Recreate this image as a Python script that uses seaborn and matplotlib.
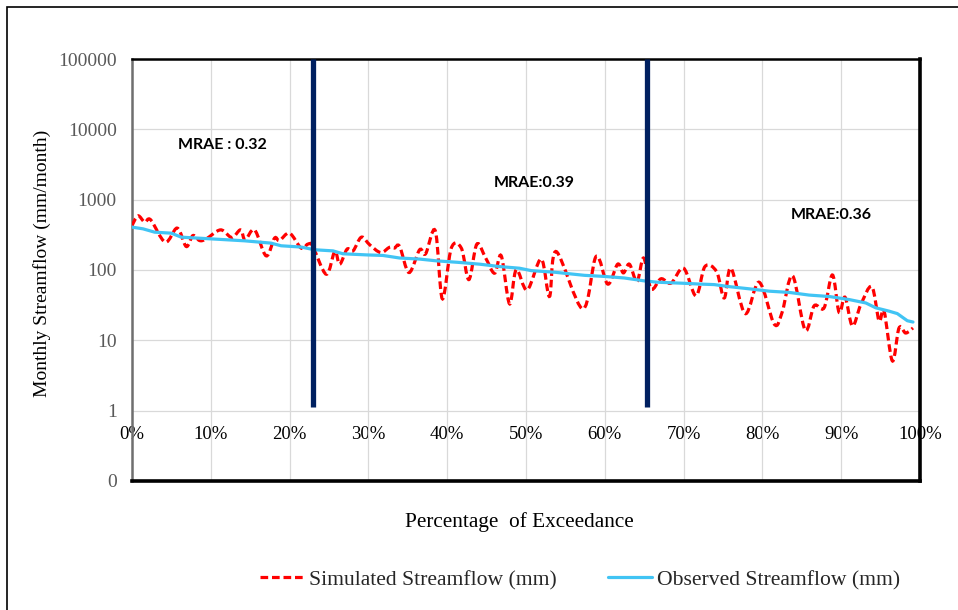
import matplotlib
matplotlib.use("Agg")
import matplotlib.pyplot as plt
import matplotlib.patches as mpatches
from matplotlib.path import Path
from matplotlib.lines import Line2D
import numpy as np
import seaborn as sns
import pandas as pd

# Simulated monthly streamflow along the exceedance axis (%, mm/month)
sim_pct = [0.0, 0.76, 1.61, 2.37, 4.22, 5.74, 6.88, 7.73, 8.58, 9.42,
           11.24, 12.67, 13.78, 14.36, 15.55, 17.02, 18.09, 18.72, 19.99, 21.46,
           22.31, 22.94, 24.65, 25.73, 26.36, 27.29, 28.05, 29.11, 30.17, 31.56,
           32.70, 33.30, 33.97, 35.15, 36.50, 37.26, 38.49, 39.38, 40.52, 41.79,
           42.75, 43.76, 44.87, 46.01, 46.86, 47.91, 48.76, 50.15, 51.93, 52.98,
           53.83, 57.20, 58.90, 60.37, 61.63, 62.36, 63.12, 64.09, 64.93, 65.87,
           67.13, 68.40, 70.00, 71.57, 72.71, 74.18, 75.16, 76.01, 77.82, 79.59,
           81.50, 82.50, 83.82, 85.42, 86.57, 87.83, 88.89, 89.73, 90.49, 91.42,
           92.48, 93.88, 94.80, 95.44, 96.49, 97.34, 98.19, 99.11]
sim_flow = [429, 589, 479, 517, 249, 394, 216, 309, 262, 277,
            372, 290, 372, 268, 372, 159, 284, 262, 334, 205,
            233, 216, 87, 183, 121, 198, 187, 293, 228, 177,
            211, 205, 216, 92, 194, 170, 361, 39, 205, 205,
            73, 233, 149, 90, 159, 33, 101, 52, 143, 42,
            183, 28, 156, 63, 121, 91, 121, 69, 148, 54,
            75, 65, 106, 43, 112, 95, 40, 106, 24, 67,
            17, 25, 83, 14, 31, 29, 85, 25, 41, 16,
            32, 58, 19, 26, 5.1, 15, 12.7, 15]

# Observed flow duration curve (%, mm/month)
obs_pct = [0.0, 1.39, 2.88, 4.98, 6.25, 10.05, 14.28, 17.65, 18.92, 21.46,
           23.16, 25.51, 26.78, 29.75, 31.85, 33.97, 36.50, 38.62, 41.57, 44.11,
           46.64, 49.18, 50.66, 53.61, 57.41, 59.95, 62.48, 65.02, 66.71, 69.67,
           72.21, 73.89, 75.79, 78.33, 80.86, 83.40, 85.93, 88.47, 91.00, 93.12,
           94.38, 96.07, 97.12, 98.39, 99.11]
obs_flow = [407, 385, 345, 334, 293, 277, 260, 241, 221, 212,
            194, 187, 170, 164, 161, 148, 143, 135, 128, 121,
            112, 106, 98, 93, 84, 81, 77, 70, 67, 65,
            63, 62, 58, 54, 50, 48, 44, 42, 38, 34,
            29, 26, 24, 19, 18.2]

# Segment boundaries and their error scores
split_pct = [23.0, 65.3]
mrae_labels = ["MRAE : 0.32", "MRAE:0.39", "MRAE:0.36"]
mrae_pos = [(11.5, 6000), (51.1, 1740), (88.8, 608)]

y_ticks = [0.1, 1, 10, 100, 1000, 10000, 100000]
y_tick_labels = ["0", "1", "10", "100", "1000", "10000", "100000"]
x_ticks = list(range(0, 101, 10))
x_tick_labels = [f"{t}%" for t in x_ticks]

SIM_COLOR = "#ff0000"
OBS_COLOR = "#41c4f4"
SIM_DASH = (2.4, 1.2)


def smooth_path(xs, ys):
    """Cubic Bezier path through the points (Catmull-Rom tangents),
    built in (x, log10 y) space so it stays smooth on the log axis."""
    px = np.asarray(xs, float)
    py = np.log10(np.asarray(ys, float))
    n = len(px)
    verts = [(px[0], py[0])]
    codes = [Path.MOVETO]
    for i in range(n - 1):
        a = max(i - 1, 0)
        b = min(i + 2, n - 1)
        c1 = (px[i] + (px[i + 1] - px[a]) / 6, py[i] + (py[i + 1] - py[a]) / 6)
        c2 = (px[i + 1] - (px[b] - px[i]) / 6, py[i + 1] - (py[b] - py[i]) / 6)
        verts += [c1, c2, (px[i + 1], py[i + 1])]
        codes += [Path.CURVE4] * 3
    verts = [(vx, 10 ** vy) for vx, vy in verts]
    return Path(verts, codes)


sns.set_style("white")
plt.rcParams["font.family"] = ["Liberation Serif", "DejaVu Serif"]

W, H = 958, 610
fig = plt.figure(figsize=(W / 100, H / 100), dpi=100)
ax = fig.add_axes([132 / W, 1 - 481 / H, (920 - 132) / W, (481 - 59) / H])

obs_df = pd.DataFrame({"pct": obs_pct, "flow": obs_flow})
sns.lineplot(data=obs_df, x="pct", y="flow", ax=ax, sort=False, estimator=None,
             color=OBS_COLOR, lw=2.3, zorder=4, legend=False)

# Simulated series drawn as a smoothed dashed curve
ax.set_yscale("log")
sim_patch = mpatches.PathPatch(smooth_path(sim_pct, sim_flow), fill=False,
                               edgecolor=SIM_COLOR, lw=2.3,
                               linestyle=(0, SIM_DASH), zorder=3,
                               capstyle="butt")
ax.add_patch(sim_patch)

for xp in split_pct:
    ax.plot([xp, xp], [1.14, 100000], color="#002060", lw=3.8, zorder=5,
            solid_capstyle="butt")

for txt, (xp, yp) in zip(mrae_labels, mrae_pos):
    ax.text(xp, yp, txt, ha="center", va="center", fontsize=11.5,
            fontweight="bold", family=["Lato", "DejaVu Sans"], color="black")

ax.set_ylim(0.1, 100000)
ax.set_xlim(0, 100)
ax.set_yticks(y_ticks)
ax.set_yticklabels(y_tick_labels)
ax.yaxis.set_minor_locator(matplotlib.ticker.NullLocator())
ax.set_xticks(x_ticks)
ax.set_xticklabels([])
ax.tick_params(axis="both", length=0)
ax.tick_params(axis="y", labelsize=14, labelcolor="#595959", pad=11)
ax.grid(True, which="major", color="#d9d9d9", lw=0.9)
ax.set_axisbelow(True)
ax.set_xlabel("")
ax.set_ylabel("")

for side, (col, lw) in {"left": ("#6f6f6f", 1.8), "top": ("black", 1.8),
                        "right": ("black", 2.6), "bottom": ("black", 2.6)}.items():
    ax.spines[side].set_visible(True)
    ax.spines[side].set_color(col)
    ax.spines[side].set_linewidth(lw)

# Category labels sit on the horizontal line at 1
sec = ax.secondary_xaxis(1 / 6)
sec.set_xticks(x_ticks)
sec.set_xticklabels(x_tick_labels)
sec.spines["bottom"].set_visible(False)
sec.spines["top"].set_visible(False)
sec.tick_params(axis="x", length=0, labelsize=13.5, labelcolor="black", pad=11)

fig.text(42 / W, 1 - 263 / H, "Monthly Streamflow (mm/month)", rotation=90,
         ha="center", va="center", fontsize=14, color="black")
fig.text(519 / W, 1 - 522 / H, "Percentage  of Exceedance", ha="center",
         va="center", fontsize=15.3, color="black")

handles = [Line2D([], [], color=SIM_COLOR, lw=2.3, dashes=SIM_DASH),
           Line2D([], [], color=OBS_COLOR, lw=2.3)]
labels = ["Simulated Streamflow (mm)", "Observed Streamflow (mm)"]
fig.legend(handles, labels, loc="center", bbox_to_anchor=(580 / W, 1 - 580 / H),
           ncol=2, frameon=False, fontsize=15.6, handlelength=2.0,
           handletextpad=0.25, columnspacing=2.4)

fig.patches.append(mpatches.Rectangle((7 / W, -0.1), 1.2, 1.1 - 7 / H,
                                      transform=fig.transFigure, fill=False,
                                      edgecolor="black", lw=1.2, zorder=10))

fig.savefig("out.png", dpi=100)
